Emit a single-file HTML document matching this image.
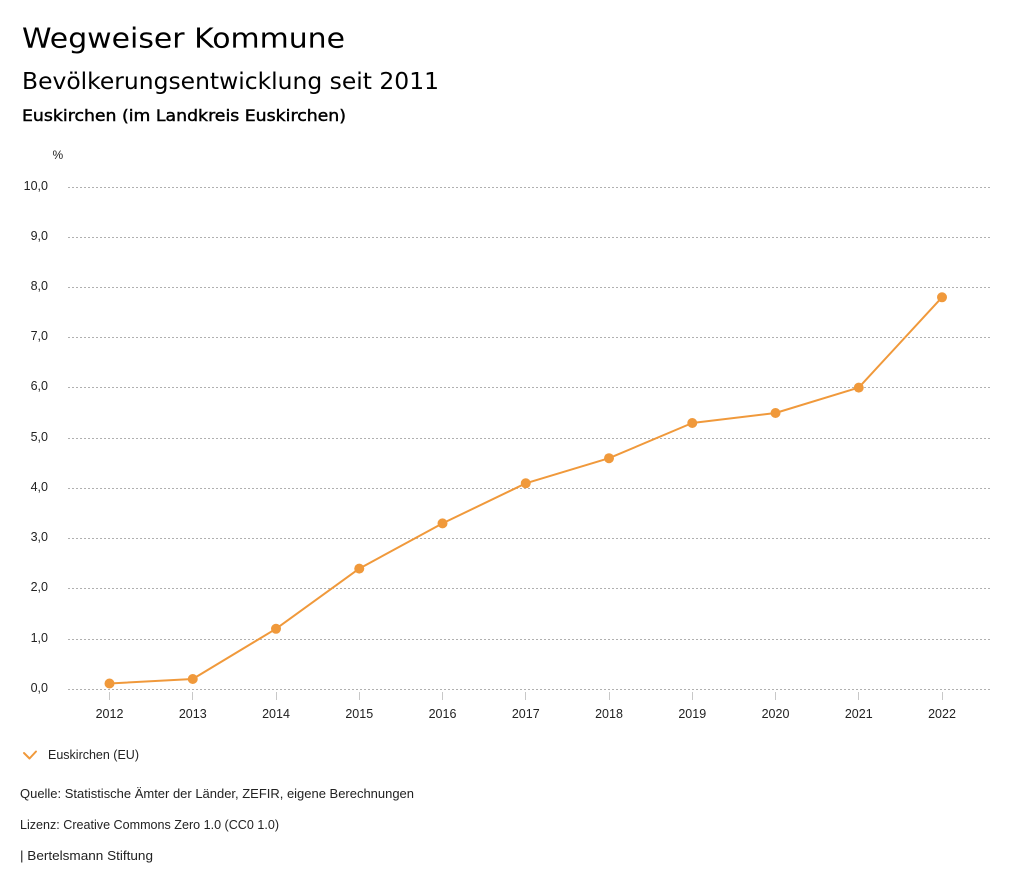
<!DOCTYPE html>
<html>
<head>
<meta charset="utf-8">
<style>
  html, body { margin: 0; padding: 0; background: #fff; }
  svg { display: block; }
  .t { font-family: "DejaVu Sans", "Liberation Sans", sans-serif; fill: #000; }
  .s { font-family: "Liberation Sans", sans-serif; fill: #222; }
</style>
</head>
<body>
<svg width="1024" height="888" viewBox="0 0 1024 888" xmlns="http://www.w3.org/2000/svg">
  <rect width="1024" height="888" fill="#fff"/>
  <!-- titles -->
  <text class="t" x="22" y="47.5" font-size="28" textLength="323" lengthAdjust="spacingAndGlyphs">Wegweiser Kommune</text>
  <text class="t" x="22" y="89" font-size="23" textLength="417" lengthAdjust="spacingAndGlyphs">Bevölkerungsentwicklung seit 2011</text>
  <text class="t" x="22" y="121" font-size="16" stroke="#000" stroke-width="0.45" textLength="324" lengthAdjust="spacingAndGlyphs">Euskirchen (im Landkreis Euskirchen)</text>

  <!-- unit -->
  <text class="s" x="52.5" y="159" font-size="12">%</text>

  <!-- gridlines -->
  <g stroke="#b0b0b0" stroke-width="1" stroke-dasharray="2,2">
    <line x1="68" y1="187.5" x2="990" y2="187.5"/>
    <line x1="68" y1="237.5" x2="990" y2="237.5"/>
    <line x1="68" y1="287.5" x2="990" y2="287.5"/>
    <line x1="68" y1="337.5" x2="990" y2="337.5"/>
    <line x1="68" y1="387.5" x2="990" y2="387.5"/>
    <line x1="68" y1="438.5" x2="990" y2="438.5"/>
    <line x1="68" y1="488.5" x2="990" y2="488.5"/>
    <line x1="68" y1="538.5" x2="990" y2="538.5"/>
    <line x1="68" y1="588.5" x2="990" y2="588.5"/>
    <line x1="68" y1="639.5" x2="990" y2="639.5"/>
    <line x1="68" y1="689.5" x2="990" y2="689.5"/>
  </g>

  <!-- y labels -->
  <g class="s" font-size="12.5" text-anchor="end">
    <text x="48" y="190">10,0</text>
    <text x="48" y="240">9,0</text>
    <text x="48" y="290">8,0</text>
    <text x="48" y="340">7,0</text>
    <text x="48" y="390">6,0</text>
    <text x="48" y="441">5,0</text>
    <text x="48" y="491">4,0</text>
    <text x="48" y="541">3,0</text>
    <text x="48" y="591">2,0</text>
    <text x="48" y="642">1,0</text>
    <text x="48" y="692">0,0</text>
  </g>

  <!-- x ticks -->
  <g stroke="#c8c8c8" stroke-width="1">
    <line x1="109.5" y1="692" x2="109.5" y2="700"/>
    <line x1="192.5" y1="692" x2="192.5" y2="700"/>
    <line x1="276.5" y1="692" x2="276.5" y2="700"/>
    <line x1="359.5" y1="692" x2="359.5" y2="700"/>
    <line x1="442.5" y1="692" x2="442.5" y2="700"/>
    <line x1="525.5" y1="692" x2="525.5" y2="700"/>
    <line x1="609.5" y1="692" x2="609.5" y2="700"/>
    <line x1="692.5" y1="692" x2="692.5" y2="700"/>
    <line x1="775.5" y1="692" x2="775.5" y2="700"/>
    <line x1="858.5" y1="692" x2="858.5" y2="700"/>
    <line x1="942.5" y1="692" x2="942.5" y2="700"/>
  </g>

  <!-- x labels -->
  <g class="s" font-size="12.5" text-anchor="middle">
    <text x="109.5" y="718">2012</text>
    <text x="192.75" y="718">2013</text>
    <text x="276" y="718">2014</text>
    <text x="359.25" y="718">2015</text>
    <text x="442.5" y="718">2016</text>
    <text x="525.75" y="718">2017</text>
    <text x="609" y="718">2018</text>
    <text x="692.25" y="718">2019</text>
    <text x="775.5" y="718">2020</text>
    <text x="858.75" y="718">2021</text>
    <text x="942" y="718">2022</text>
  </g>

  <!-- series -->
  <polyline fill="none" stroke="#f0993b" stroke-width="2" stroke-linejoin="round"
    points="109.5,683.5 192.75,679 276,628.8 359.25,568.6 442.5,523.4 525.75,483.3 609,458.2 692.25,423 775.5,413 858.75,387.6 942,297.3"/>
  <g fill="#f0993b">
    <circle cx="109.5" cy="683.5" r="5"/>
    <circle cx="192.75" cy="679" r="5"/>
    <circle cx="276" cy="628.8" r="5"/>
    <circle cx="359.25" cy="568.6" r="5"/>
    <circle cx="442.5" cy="523.4" r="5"/>
    <circle cx="525.75" cy="483.3" r="5"/>
    <circle cx="609" cy="458.2" r="5"/>
    <circle cx="692.25" cy="423" r="5"/>
    <circle cx="775.5" cy="413" r="5"/>
    <circle cx="858.75" cy="387.6" r="5"/>
    <circle cx="942" cy="297.3" r="5"/>
  </g>

  <!-- legend -->
  <polyline points="24,753 29.5,758.5 36,751.5" fill="none" stroke="#f0993b" stroke-width="2" stroke-linecap="round" stroke-linejoin="round"/>
  <text class="s" x="48" y="759" font-size="13" textLength="91" lengthAdjust="spacingAndGlyphs">Euskirchen (EU)</text>

  <!-- footer -->
  <text class="s" x="20" y="798" font-size="13" textLength="394" lengthAdjust="spacingAndGlyphs">Quelle: Statistische Ämter der Länder, ZEFIR, eigene Berechnungen</text>
  <text class="s" x="20" y="829" font-size="13" textLength="259" lengthAdjust="spacingAndGlyphs">Lizenz: Creative Commons Zero 1.0 (CC0 1.0)</text>
  <text class="s" x="20" y="860" font-size="13" textLength="133" lengthAdjust="spacingAndGlyphs">| Bertelsmann Stiftung</text>
</svg>
</body>
</html>
